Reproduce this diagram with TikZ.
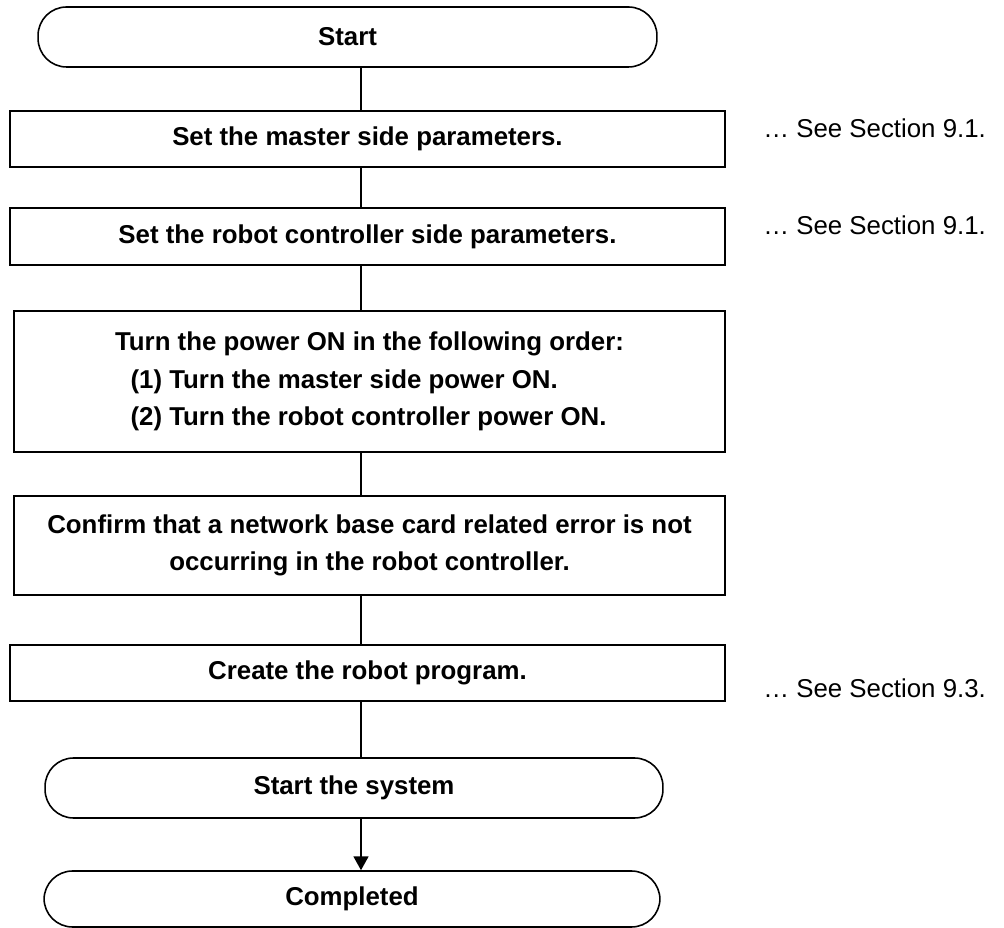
\documentclass[tikz,border=0pt]{standalone}
\usepackage{fontspec}
\setmainfont{Liberation Sans}
\usetikzlibrary{arrows.meta}
\tikzset{
  termbox/.style={draw, line width=0.9pt, rounded corners=0.57cm, minimum height=1.2cm, inner sep=0pt, font=\bfseries\fontsize{14.7}{21.3}\selectfont},
  stepbox/.style={draw, line width=1pt, inner sep=0pt, align=center, font=\bfseries\fontsize{14.7}{21.3}\selectfont},
  notetext/.style={anchor=west, inner sep=0pt, font=\fontsize{14.7}{21.3}\selectfont},
  flowline/.style={line width=1pt}
}

\begin{document}
\begin{tikzpicture}[x=0.02cm, y=-0.02cm]
  \useasboundingbox (0,0) rectangle (1004,928);
  \coordinate (trunk) at (361,0);
  \node[termbox, minimum width=12.38cm] (start) at (347.5,37) {Start};
  \node[stepbox, minimum width=14.3cm, minimum height=1.12cm] (master) at (367.5,139) {Set the master side parameters.};
  \node[stepbox, minimum width=14.3cm, minimum height=1.14cm] (robotctl) at (367.5,236.5) {Set the robot controller side parameters.};
  \node[stepbox, minimum width=14.22cm, minimum height=2.82cm, align=left] (poweron) at (369.5,381.5) {Turn the power ON in the following order:\\\hspace*{0.6em}(1) Turn the master side power ON.\\\hspace*{0.6em}(2) Turn the robot controller power ON.};
  \node[stepbox, minimum width=14.22cm, minimum height=1.98cm] (confirm) at (369.5,545.5) {Confirm that a network base card related error is not\\occurring in the robot controller.};
  \node[stepbox, minimum width=14.3cm, minimum height=1.12cm] (program) at (367.5,673) {Create the robot program.};
  \node[termbox, minimum width=12.36cm] (startsys) at (354,788) {Start the system};
  \node[termbox, minimum width=12.32cm, minimum height=1.12cm] (done) at (352,899) {Completed};
  \node[notetext] (note1) at (763,128) {… See Section 9.1.};
  \node[notetext] (note2) at (763,225) {… See Section 9.1.};
  \node[notetext] (note3) at (763,688) {… See Section 9.3.};
  \draw[flowline] (start.south -| trunk) -- (master.north -| trunk);
  \draw[flowline] (master.south -| trunk) -- (robotctl.north -| trunk);
  \draw[flowline] (robotctl.south -| trunk) -- (poweron.north -| trunk);
  \draw[flowline] (poweron.south -| trunk) -- (confirm.north -| trunk);
  \draw[flowline] (confirm.south -| trunk) -- (program.north -| trunk);
  \draw[flowline] (program.south -| trunk) -- (startsys.north -| trunk);
  \draw[flowline, -{Triangle[length=7.9pt,width=8.5pt]}] (startsys.south -| trunk) -- (done.north -| trunk);
\end{tikzpicture}
\end{document}
